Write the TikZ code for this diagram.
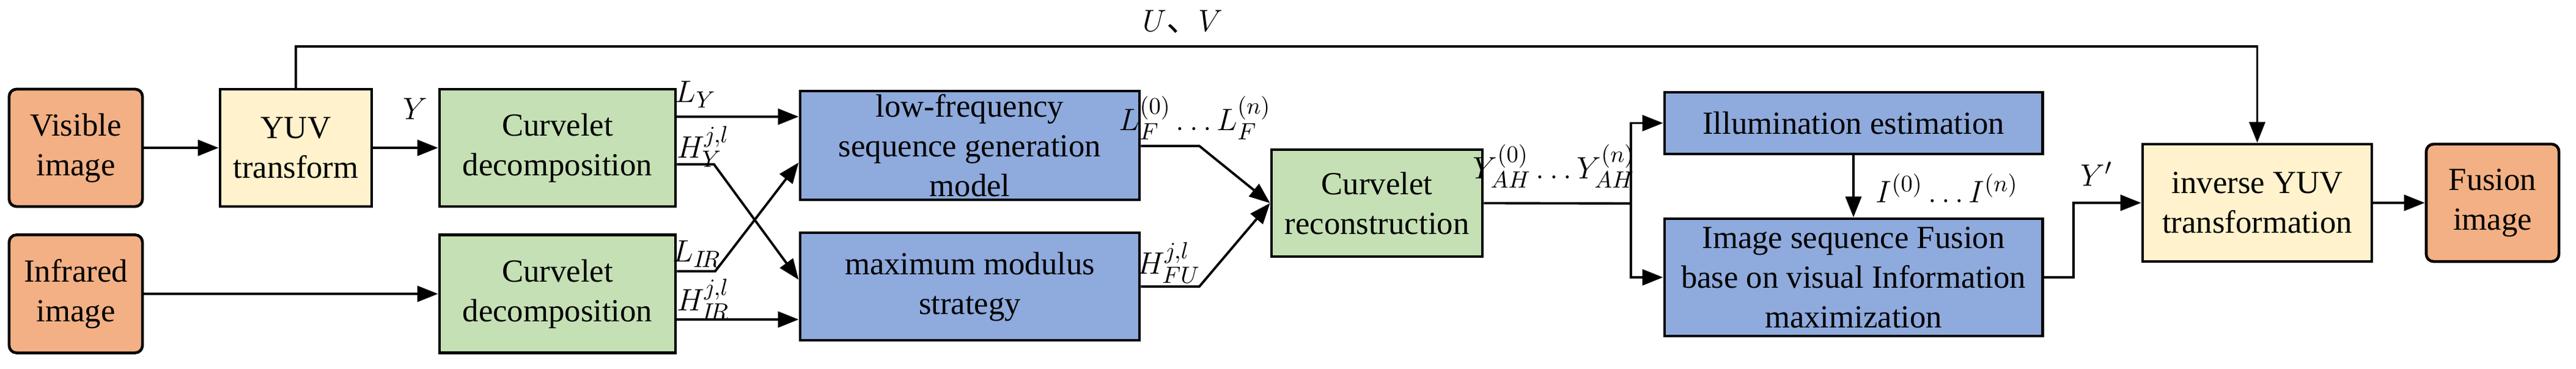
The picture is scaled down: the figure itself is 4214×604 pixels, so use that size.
\documentclass[tikz,border=0pt]{standalone}
\usepackage{fontspec}
\setmainfont{Liberation Serif}
\newfontfamily\cjk{Noto Sans CJK SC}
\usetikzlibrary{arrows.meta}
\definecolor{corange}{HTML}{F2B084}
\definecolor{cyellow}{HTML}{FFF2CC}
\definecolor{cgreen}{HTML}{C5E0B4}
\definecolor{cblue}{HTML}{8FAADC}
\begin{document}
\begin{tikzpicture}[x=0.01cm,y=-0.01cm,
  base/.style={draw=black,line width=1.3pt,align=center,inner sep=0pt,
    font=\fontsize{15}{18.5}\selectfont},
  term/.style={base,fill=corange,rounded corners=0.12cm},
  yb/.style={base,fill=cyellow},
  gb/.style={base,fill=cgreen},
  bb/.style={base,fill=cblue},
  ln/.style={line width=1.1pt},
  arr/.style={ln,-{Triangle[length=0.34cm,width=0.26cm]}},
  lab/.style={inner sep=0pt,font=\fontsize{15}{18}\selectfont}]
\useasboundingbox (0,0) rectangle (4214,604);
\node[term,minimum width=2.18cm,minimum height=1.92cm] (vis) at (124,242) {Visible\\image};
\node[term,minimum width=2.18cm,minimum height=1.93cm] (inf) at (124,481) {Infrared\\image};
\node[yb,minimum width=2.48cm,minimum height=1.92cm] (yuv) at (484,242) {YUV\\transform};
\node[gb,minimum width=3.86cm,minimum height=1.92cm] (cd1) at (912,242) {Curvelet\\decomposition};
\node[gb,minimum width=3.86cm,minimum height=1.93cm] (cd2) at (912,481) {Curvelet\\decomposition};
\node[bb,minimum width=5.55cm,minimum height=1.78cm] (lf) at (1586.5,238) {low-frequency\\sequence generation\\model};
\node[bb,minimum width=5.55cm,minimum height=1.76cm] (mm) at (1586.5,469) {maximum modulus\\strategy};
\node[gb,minimum width=3.45cm,minimum height=1.75cm] (cr) at (2252.5,332.5) {Curvelet\\reconstruction};
\node[bb,minimum width=6.18cm,minimum height=1.01cm] (il) at (3032,201.5) {Illumination estimation};
\node[bb,minimum width=6.18cm,minimum height=1.92cm] (is) at (3032,454) {Image sequence Fusion\\base on visual Information\\maximization};
\node[yb,minimum width=3.75cm,minimum height=1.92cm] (inv) at (3692.5,332) {inverse YUV\\transformation};
\node[term,minimum width=2.17cm,minimum height=1.92cm] (fu) at (4077.5,332) {Fusion\\image};

\draw[arr] (vis.east) -- (yuv.west);
\draw[arr] (yuv.east) -- (cd1.west);
\draw[arr] (inf.east) -- (cd2.west);
\draw[arr] (cd1.east |- 0,191) -- (lf.west |- 0,191);
\draw[arr] (cd1.east |- 0,269) -- (1168,269) -- (lf.west |- 0,458);
\draw[arr] (cd2.east |- 0,444) -- (1170,444) -- (lf.west |- 0,266);
\draw[arr] (cd2.east |- 0,523) -- (mm.west |- 0,523);
\draw[arr] (lf.east |- 0,239) -- (1962,239) -- (cr.west);
\draw[arr] (mm.east |- 0,469) -- (1962,469) -- (cr.west);
\coordinate (sp) at (2668,333);
\draw[ln] (cr.east) -- (sp);
\draw[arr] (sp) |- (il.west);
\draw[arr] (sp) |- (is.west);
\draw[arr] (il.south) -- (is.north);
\draw[arr] (is.east) -- (3392,454) |- (inv.west);
\draw[arr] (inv.east) -- (fu.west);
\draw[arr] (yuv.north) -- (484,76) -| (inv.north);

\node[lab] (uv) at (1935,36) {$U${\cjk 、}$V$};
\node[lab] (ly) at (679,178) {$Y$};
\node[lab] (lly) at (1138,155) {$L_{Y}$};
\node[lab] (lhy) at (1150,240) {$H_{Y}^{j,l}$};
\node[lab] (llir) at (1140,416) {$L_{I\!R}$};
\node[lab] (lhir) at (1150,490) {$H_{I\!R}^{j,l}$};
\node[lab] (llf) at (1955,193) {$L_{F}^{(0)}\ldots L_{F}^{(n)}$};
\node[lab] (lhfu) at (1912,430) {$H_{FU}^{j,l}$};
\node[lab] (lyah) at (2542,272) {$Y_{AH}^{(0)}\ldots Y_{AH}^{(n)}$};
\node[lab] (li) at (3185,308) {$I^{(0)}\ldots I^{(n)}$};
\node[lab] (lyp) at (3430,285) {$Y'$};
\end{tikzpicture}
\end{document}
